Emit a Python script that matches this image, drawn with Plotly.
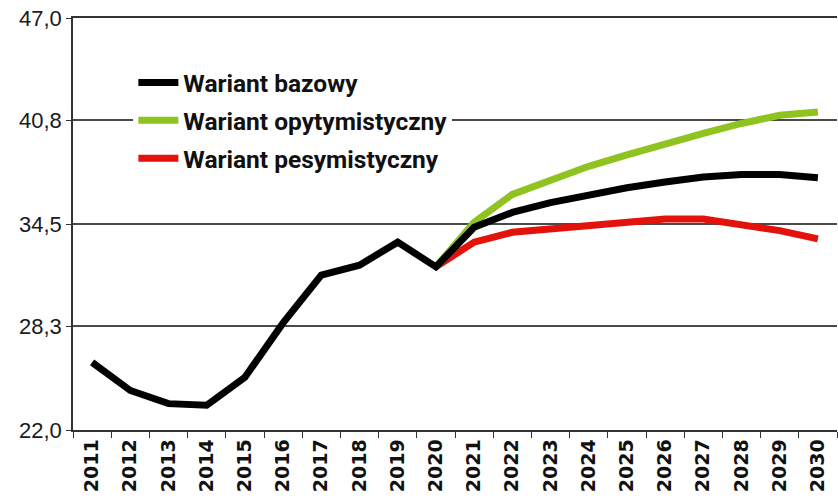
import plotly.graph_objects as go

years = [str(y) for y in range(2011, 2031)]
base = [26.1, 24.4, 23.6, 23.5, 25.2, 28.5, 31.4, 32.0, 33.4, 31.9,
        34.3, 35.2, 35.8, 36.3, 36.7, 37.05, 37.35, 37.5, 37.5, 37.3]
proj_years = [str(y) for y in range(2020, 2031)]
optim = [31.9, 34.6, 36.3, 37.2, 38.0, 38.7, 39.4, 40.0, 40.6, 41.1, 41.3]
pesym = [31.9, 33.4, 34.0, 34.2, 34.3, 34.5, 34.8, 34.8, 34.5, 34.1, 33.6]
y_ticks = [22.0, 28.3, 34.5, 40.8, 47.0]
y_ticktext = ["22,0", "28,3", "34,5", "40,8", "47,0"]

names = ["Wariant bazowy", "Wariant opytymistyczny", "Wariant pesymistyczny"]
colors = ["#000000", "#8fc31f", "#e3120b"]

fig = go.Figure()
fig.add_trace(go.Scatter(x=proj_years, y=pesym, mode="lines", name=names[2],
                         line=dict(color=colors[2], width=7), legendrank=3, legendgroup="c"))
fig.add_trace(go.Scatter(x=proj_years, y=optim, mode="lines", name=names[1],
                         line=dict(color=colors[1], width=7), legendrank=2, legendgroup="b"))
fig.add_trace(go.Scatter(x=years, y=base, mode="lines", name=names[0],
                         line=dict(color=colors[0], width=7), legendrank=1, legendgroup="a"))

fig.update_layout(
    width=838, height=498,
    margin=dict(l=73, r=1, t=18, b=68),
    plot_bgcolor="white", paper_bgcolor="white",
    font=dict(family="Liberation Sans, Arial", color="#1a1a1a"),
    legend=dict(x=0.079, y=0.898, xanchor="left", yanchor="top",
                bgcolor="white", borderwidth=0,
                font=dict(family="Roboto", size=24.5, color="#111111", weight="bold"),
                tracegroupgap=3, itemwidth=40, entrywidth=330),
    showlegend=True,
)
fig.update_xaxes(
    type="category", categoryorder="array", categoryarray=years,
    tickson="boundaries", ticks="outside", ticklen=6, tickcolor="#333333",
    tickangle=-90, tickfont=dict(family="DejaVu Sans", size=19, color="#111111", weight="bold"),
    showline=True, linecolor="#333333", linewidth=1.5, mirror=True, showgrid=False,
    range=[-0.5, 19.5], automargin=False,
)
fig.update_yaxes(
    range=[22, 47], tickvals=y_ticks, ticktext=y_ticktext,
    ticks="outside", ticklen=5, tickcolor="#333333",
    tickfont=dict(family="Liberation Sans, Arial", size=22, color="#1a1a1a"),
    showline=True, linecolor="#333333", linewidth=1.5,
    showgrid=True, gridcolor="#4a4a4a", gridwidth=1.5, zeroline=False, automargin=False,
)

fig.write_html("out.html", config={"displayModeBar": False},
               post_script="document.body.style.margin='0';")
